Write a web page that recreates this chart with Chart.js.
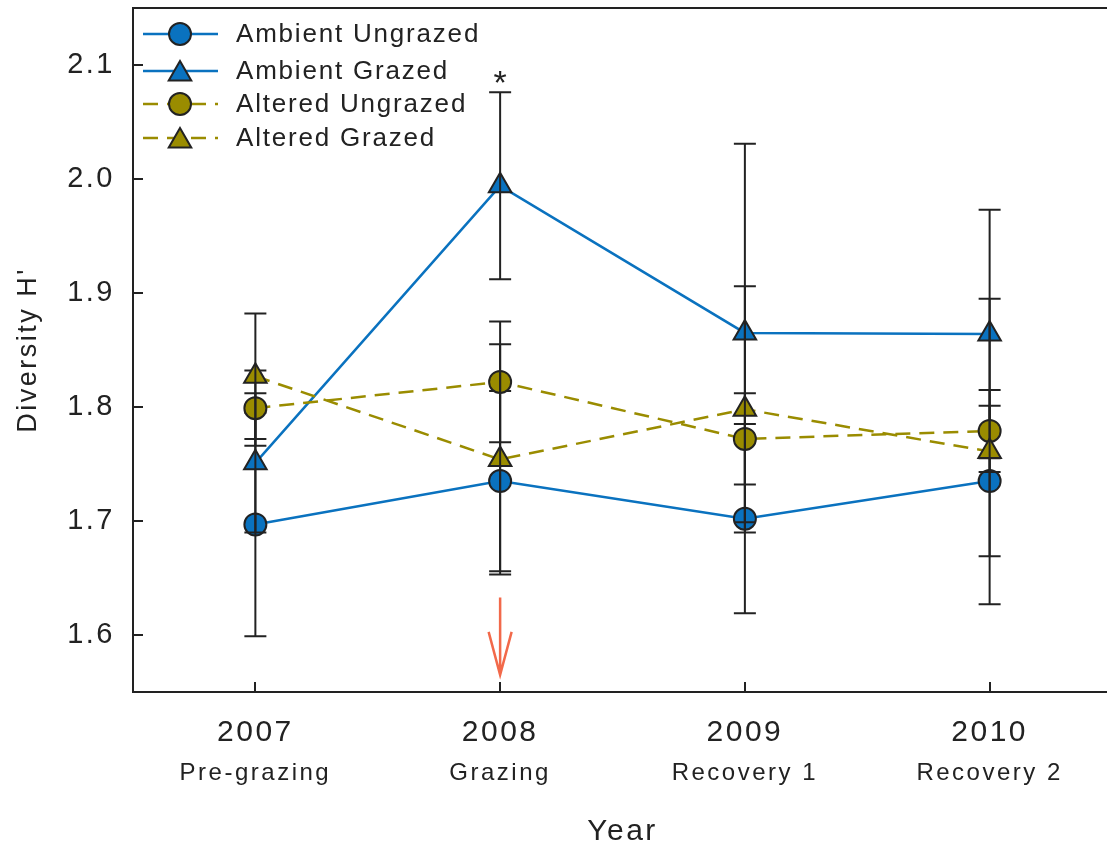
<!DOCTYPE html>
<html>
<head>
<meta charset="utf-8">
<script src="https://cdn.jsdelivr.net/npm/chart.js@4.4.0/dist/chart.umd.min.js"></script>
<style>
  html, body { margin: 0; padding: 0; background: #fff; }
  #wrap { width: 1107px; height: 845px; }
</style>
</head>
<body>
<div id="wrap"><canvas id="chart"></canvas></div>
<script>
const years = ["2007", "2008", "2009", "2010"];
const phases = ["Pre-grazing", "Grazing", "Recovery 1", "Recovery 2"];
const yTicks = [1.6, 1.7, 1.8, 1.9, 2.0, 2.1];

const ambientUngrazed = [1.697, 1.735, 1.702, 1.735];
const ambientUngrazedErr = [0.098, 0.079, 0.083, 0.066];
const ambientGrazed = [1.751, 1.994, 1.865, 1.864];
const ambientGrazedErr = [0.061, 0.082, 0.166, 0.109];
const alteredUngrazed = [1.799, 1.822, 1.772, 1.779];
const alteredUngrazedErr = [0.033, 0.053, 0.040, 0.036];
const alteredGrazed = [1.827, 1.754, 1.798, 1.761];
const alteredGrazedErr = [0.055, 0.101, 0.108, 0.134];

// significance mark and grazing arrow
const starIndex = 1;
const arrowIndex = 1;
const arrowFrom = 1.633;
const arrowTo = 1.565;

const BLUE = "#0a72bf";
const OLIVE = "#9a8c00";
const INK = "#222222";
const FONT = "'Liberation Sans', Arial, sans-serif";

Chart.defaults.font.family = FONT;
Chart.defaults.color = INK;

const errors = [ambientUngrazedErr, ambientGrazedErr, alteredUngrazedErr, alteredGrazedErr];

function series(label, data, color, shape, dashed, order) {
  return {
    label: label,
    data: data,
    borderColor: color,
    backgroundColor: color,
    borderWidth: 2.5,
    borderDash: dashed ? [15, 9] : [],
    pointStyle: shape,
    pointRadius: shape === "triangle" ? 13 : 11,
    pointBorderColor: INK,
    pointBorderWidth: 2,
    pointBackgroundColor: color,
    tension: 0,
    order: order
  };
}

// the original plot frame runs a few pixels past the right edge of the image
const frameRight = 1112;
const widenFrame = {
  id: "widenFrame",
  afterLayout(chart) {
    chart.chartArea.right = frameRight;
    chart.chartArea.width = frameRight - chart.chartArea.left;
    ["x", "phase"].forEach(id => {
      const s = chart.scales[id];
      s.right = frameRight;
      s.width = frameRight - s.left;
      s.configure();
    });
  }
};

// the original figure's type is wide, so space the letters out a bit
const spacing = {
  id: "spacing",
  beforeDraw(chart) { chart.ctx.letterSpacing = "2.5px"; }
};

const errorBars = {
  id: "errorBars",
  afterDatasetDraw(chart, args) {
    const err = errors[args.index];
    const y = chart.scales.y;
    const ctx = chart.ctx;
    ctx.save();
    ctx.strokeStyle = INK;
    ctx.lineWidth = 2;
    args.meta.data.forEach((pt, i) => {
      const v = chart.data.datasets[args.index].data[i];
      const top = y.getPixelForValue(v + err[i]);
      const bot = y.getPixelForValue(v - err[i]);
      ctx.beginPath();
      ctx.moveTo(pt.x, top); ctx.lineTo(pt.x, bot);
      ctx.moveTo(pt.x - 11, top); ctx.lineTo(pt.x + 11, top);
      ctx.moveTo(pt.x - 11, bot); ctx.lineTo(pt.x + 11, bot);
      ctx.stroke();
    });
    ctx.restore();
  }
};

const decorations = {
  id: "decorations",
  afterDraw(chart) {
    const ctx = chart.ctx;
    const area = chart.chartArea;
    const x = chart.scales.x;
    const y = chart.scales.y;
    ctx.save();
    ctx.strokeStyle = INK;
    ctx.lineWidth = 2;
    ctx.beginPath();
    ctx.moveTo(area.left, area.top); ctx.lineTo(area.right, area.top);
    yTicks.forEach(v => {
      const py = Math.round(y.getPixelForValue(v));
      ctx.moveTo(area.left, py); ctx.lineTo(area.left + 10, py);
    });
    years.forEach((_, i) => {
      const px = Math.round(x.getPixelForValue(i));
      ctx.moveTo(px, area.bottom); ctx.lineTo(px, area.bottom - 10);
    });
    ctx.stroke();

    // asterisk above Ambient Grazed 2008
    const sx = x.getPixelForValue(starIndex);
    const sy = y.getPixelForValue(ambientGrazed[starIndex] + ambientGrazedErr[starIndex]);
    ctx.letterSpacing = "0px";
    ctx.fillStyle = INK;
    ctx.font = "34px " + FONT;
    ctx.textAlign = "center";
    ctx.textBaseline = "alphabetic";
    ctx.fillText("*", sx, sy + 2);

    // grazing arrow
    const ax = x.getPixelForValue(arrowIndex);
    const a1 = y.getPixelForValue(arrowFrom);
    const a2 = y.getPixelForValue(arrowTo);
    ctx.strokeStyle = "#f2694a";
    ctx.lineWidth = 2.5;
    ctx.beginPath();
    ctx.moveTo(ax, a1); ctx.lineTo(ax, a2);
    ctx.moveTo(ax - 11.5, a2 - 43); ctx.lineTo(ax, a2); ctx.lineTo(ax + 11.5, a2 - 43);
    ctx.stroke();

    // legend
    const rows = [34, 71, 104, 138];
    ctx.font = "26px " + FONT;
    ctx.letterSpacing = "1.8px";
    ctx.textAlign = "left";
    ctx.textBaseline = "middle";
    chart.data.datasets.forEach((ds, i) => {
      const ry = rows[i];
      ctx.strokeStyle = ds.borderColor;
      ctx.lineWidth = ds.borderWidth;
      ctx.setLineDash(ds.borderDash);
      ctx.beginPath();
      ctx.moveTo(143, ry); ctx.lineTo(218, ry);
      ctx.stroke();
      ctx.setLineDash([]);
      ctx.fillStyle = ds.pointBackgroundColor;
      ctx.strokeStyle = ds.pointBorderColor;
      ctx.lineWidth = ds.pointBorderWidth;
      Chart.helpers.drawPoint(ctx, { pointStyle: ds.pointStyle, radius: ds.pointRadius, borderWidth: 2 }, 180, ds.pointStyle === "triangle" ? ry + 3 : ry);
      ctx.fillStyle = INK;
      ctx.fillText(ds.label, 236, ry + 1);
    });
    ctx.restore();
  }
};

function noHPad(s) { s.paddingLeft = 0; s.paddingRight = 0; }

new Chart(document.getElementById("chart"), {
  type: "line",
  data: {
    labels: years,
    datasets: [
      series("Ambient Ungrazed", ambientUngrazed, BLUE, "circle", false, 4),
      series("Ambient Grazed", ambientGrazed, BLUE, "triangle", false, 3),
      series("Altered Ungrazed", alteredUngrazed, OLIVE, "circle", true, 2),
      series("Altered Grazed", alteredGrazed, OLIVE, "triangle", true, 1)
    ]
  },
  options: {
    responsive: true,
    maintainAspectRatio: false,
    animation: false,
    devicePixelRatio: 1,
    layout: { autoPadding: false, padding: { top: 8, right: 0, left: 0, bottom: 0 } },
    plugins: { legend: { display: false }, tooltip: { enabled: false } },
    scales: {
      x: {
        type: "category",
        offset: true,
        weight: 0,
        grid: { display: false, drawTicks: false },
        border: { display: true, color: INK, width: 2 },
        ticks: { font: { size: 30 }, padding: 23, color: INK },
        afterFit: s => { s.height = 62; noHPad(s); }
      },
      phase: {
        type: "category",
        position: "bottom",
        labels: phases,
        offset: true,
        weight: 1,
        grid: { display: false, drawTicks: false },
        border: { display: false },
        ticks: { font: { size: 24 }, padding: 5, color: INK },
        title: { display: true, text: "Year", font: { size: 30 }, color: INK, padding: { top: 0, bottom: -5 } },
        afterFit: s => { s.height = 91; noHPad(s); }
      },
      y: {
        min: 1.55,
        max: 2.15,
        grid: { display: false, drawTicks: false },
        border: { display: true, color: INK, width: 2 },
        afterBuildTicks: s => { s.ticks = yTicks.map(v => ({ value: v })); },
        ticks: { font: { size: 29 }, padding: 18, color: INK, callback: v => Number(v).toFixed(1) },
        title: { display: true, text: "Diversity H'", font: { size: 27 }, color: INK, padding: { top: 12, bottom: 0 } },
        afterFit: s => { s.width = 133; s.paddingTop = 0; s.paddingBottom = 0; }
      }
    }
  },
  plugins: [widenFrame, spacing, errorBars, decorations]
});
</script>
</body>
</html>
